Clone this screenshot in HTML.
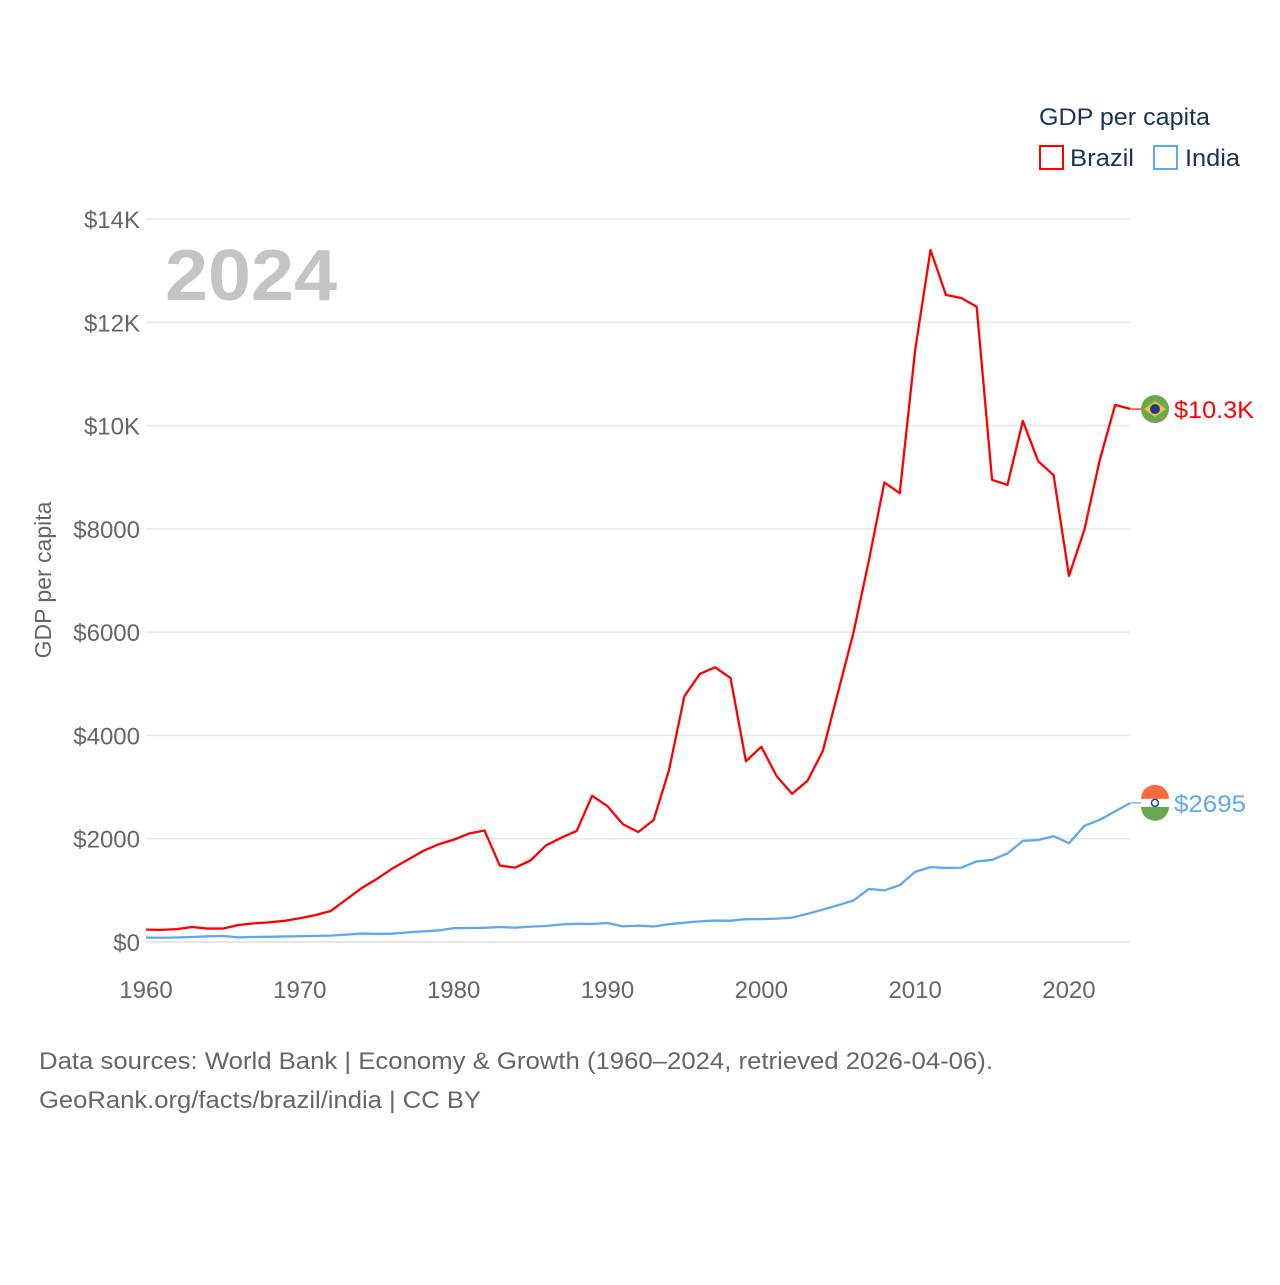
<!DOCTYPE html>
<html><head><meta charset="utf-8"><style>
body{margin:0;background:#fff;}
svg text{font-family:"Liberation Sans",sans-serif;}
</style></head><body>
<svg id="chart" width="1280" height="1280" viewBox="0 0 1280 1280" xmlns="http://www.w3.org/2000/svg">
<rect width="1280" height="1280" fill="#fff"/>
<g id="grid"></g>
<g id="yticks"></g>
<g id="xticks"></g>
<text x="165" y="300" font-size="72" font-weight="bold" fill="#c4c4c4" textLength="172" lengthAdjust="spacingAndGlyphs">2024</text>
<text transform="translate(51,580) rotate(-90)" text-anchor="middle" font-size="23" fill="#666">GDP per capita</text>
<g id="series"></g>
<g>
<text x="1039" y="125" font-size="24" fill="#1a3455" textLength="171" lengthAdjust="spacingAndGlyphs">GDP per capita</text>
<g><rect x="1040" y="146" width="23" height="23" fill="none" stroke="#ff0000" stroke-width="2"/><text x="1070" y="166" font-size="24" fill="#1a3455" textLength="64" lengthAdjust="spacingAndGlyphs">Brazil</text></g>
<g><rect x="1154" y="146" width="23" height="23" fill="none" stroke="#5ea8ee" stroke-width="2"/><text x="1185" y="166" font-size="24" fill="#1a3455" textLength="55" lengthAdjust="spacingAndGlyphs">India</text></g>
</g>
<text x="39" y="1069" font-size="24" fill="#666" textLength="954" lengthAdjust="spacingAndGlyphs">Data sources: World Bank | Economy &amp; Growth (1960–2024, retrieved 2026-04-06).</text>
<text x="39" y="1108" font-size="24" fill="#666" textLength="442" lengthAdjust="spacingAndGlyphs">GeoRank.org/facts/brazil/india | CC BY</text>
</svg>
<script>
const years = Array.from({length:65},(_,i)=>1960+i);
const brazil = [240,235,250,290,260,260,330,360,380,410,460,520,600,820,1040,1220,1420,1590,1760,1890,1980,2100,2160,1480,1440,1580,1870,2020,2150,2830,2630,2280,2130,2360,3330,4760,5190,5320,5110,3500,3780,3210,2870,3120,3700,4850,6000,7400,8900,8690,11460,13400,12530,12470,12300,8950,8850,10090,9310,9040,7090,7980,9330,10400,10320];
const india = [84,82,87,97,110,117,90,97,100,108,112,119,123,143,163,158,161,186,206,224,267,271,275,291,277,297,310,340,354,348,368,303,317,301,346,374,400,415,413,442,443,452,471,546,627,714,806,1028,999,1102,1358,1450,1434,1438,1560,1590,1714,1958,1974,2050,1913,2250,2366,2530,2695];
const yTicks = [0,2000,4000,6000,8000,10000,12000,14000];
const yTickLabels = ["$0","$2000","$4000","$6000","$8000","$10K","$12K","$14K"];
const xTicks = [1960,1970,1980,1990,2000,2010,2020];
const endLabels = ["$10.3K","$2695"];

const NS="http://www.w3.org/2000/svg";
const X0=146,X1=1130.5,Y0=942,Y1=219;
const xs=y=>X0+(y-1960)/(2024-1960)*(X1-X0);
const ys=v=>Y0-v/14000*(Y0-Y1);
function mk(tag,attrs,parent){const e=document.createElementNS(NS,tag);for(const k in attrs)e.setAttribute(k,attrs[k]);parent.appendChild(e);return e;}
const grid=document.getElementById('grid'),yt=document.getElementById('yticks'),xt=document.getElementById('xticks'),ser=document.getElementById('series');
yTicks.forEach((v,i)=>{
  const l=mk('line',{x1:X0,x2:1130,y1:ys(v),y2:ys(v),stroke:i===0?'#ddd':'#e8e8e8','stroke-width':1.5},grid);
  
  
  const t=mk('text',{x:140,y:ys(v)+9,'text-anchor':'end','font-size':24,fill:'#666'},yt);
  t.textContent=yTickLabels[i];
  
  
});
xTicks.forEach(y=>{
  const t=mk('text',{x:xs(y),y:998,'text-anchor':'middle','font-size':24,fill:'#666'},xt);
  t.textContent=y;
  
  
});
function line(data,color,name){
  const p=mk('polyline',{points:data.map((v,i)=>xs(years[i])+','+ys(v)).join(' '),fill:'none',stroke:color,'stroke-width':2.3,'stroke-linejoin':'round'},ser);
  
  
}
line(india,'#5ea8ee','india-line');
line(brazil,'#ff0000','brazil-line');
function endMark(data,color,label,name,flag,len){
  const v=data[data.length-1],y=ys(v);
  const g=mk('g',{},ser);
  
  
  mk('line',{x1:1131,x2:1141,y1:y,y2:y,stroke:color,'stroke-width':1.2},g);
  if(flag==='br'){
    mk('circle',{cx:1155,cy:y,r:14,fill:'#6aa84f'},g);
    mk('polygon',{points:`1144,${y} 1155,${y-8} 1166,${y} 1155,${y+8}`,fill:'#f1c232'},g);
    mk('circle',{cx:1155,cy:y,r:5,fill:'#1c3d8c'},g);
  }else{
    mk('circle',{cx:1155,cy:y,r:14,fill:'#fff'},g);
    mk('path',{d:`M1141,${y-4} A14,14 0 0 1 1169,${y-4} Z`,fill:'#ff6a3d'},g);
    mk('path',{d:`M1141,${y+4} A14,14 0 0 0 1169,${y+4} Z`,fill:'#6aa84f'},g);
    mk('circle',{cx:1155,cy:y,r:3.5,fill:'none',stroke:'#1c3d8c','stroke-width':1.5},g);
  }
  const t=mk('text',{x:1174,y:y+9,'font-size':24,fill:color,textLength:len,lengthAdjust:'spacingAndGlyphs'},g);
  t.textContent=label;
}
endMark(brazil,'#ff0000',endLabels[0],'brazil-end-label','br',80);
endMark(india,'#5ea8ee',endLabels[1],'india-end-label','in',72);
</script>
</body></html>
